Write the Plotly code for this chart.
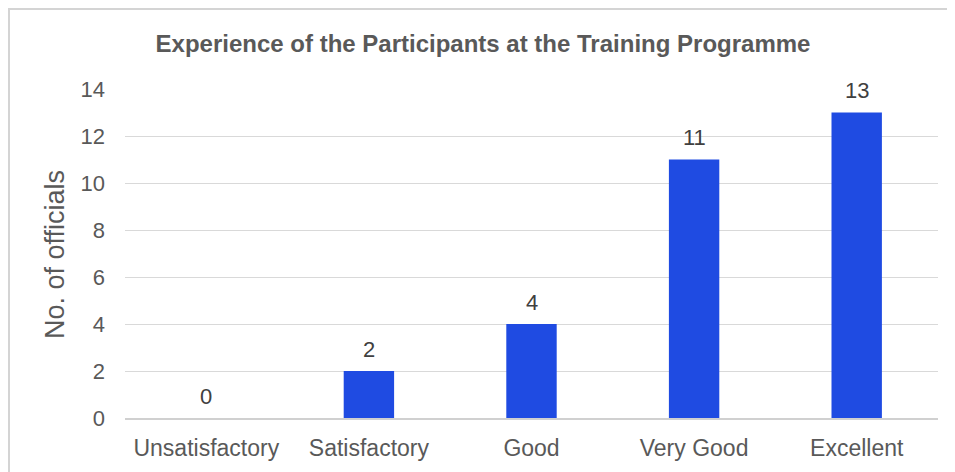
import plotly.graph_objects as go

categories = ["Unsatisfactory", "Satisfactory", "Good", "Very Good", "Excellent"]
officials = [0, 2, 4, 11, 13]
y_ticks = [0, 2, 4, 6, 8, 10, 12, 14]

OFF = 8  # default page margin of the browser
W, H = 955 - OFF, 472 - OFF
# plot area in reference-pixel coordinates
PL, PR, PT, PB = 125, 938, 89, 418
L, R, T, B = PL - OFF, 955 - PR, PT - OFF, 472 - PB
pw, ph = PR - PL, PB - PT

def px_x(p):
    return (p - PL) / pw

def px_y(p):
    return (PB - p) / ph

FONT = "Liberation Sans, Arial, sans-serif"
GRAY = "#595959"

fig = go.Figure()
fig.add_trace(go.Bar(
    x=categories, y=officials,
    marker=dict(color="#1F4BE2", line=dict(width=0)),
    width=0.31,
    hoverinfo="x+y",
))

for c, v in zip(categories, officials):
    fig.add_annotation(x=c, y=v, xref="x", yref="y", text=str(v),
                       showarrow=False, yshift=22, yanchor="middle",
                       font=dict(family=FONT, size=22, color="#404040"))

fig.add_annotation(x=px_x(55), y=px_y(255), xref="paper", yref="paper",
                   text="No. of officials", textangle=-90, showarrow=False,
                   xanchor="center", yanchor="middle",
                   font=dict(family=FONT, size=27, color=GRAY))

fig.add_shape(type="rect", xref="paper", yref="paper",
              x0=px_x(9), x1=px_x(1000), y0=px_y(520), y1=px_y(9),
              line=dict(color="#D4D4D4", width=2), fillcolor="rgba(0,0,0,0)",
              layer="below")

fig.update_layout(
    width=W, height=H,
    margin=dict(l=L, r=R, t=T, b=B, autoexpand=False),
    paper_bgcolor="white", plot_bgcolor="white",
    showlegend=False,
    title=dict(text="<b>Experience of the Participants at the Training Programme</b>",
               x=(483 - OFF) / W, xanchor="center", y=1 - (44 - OFF) / H, yanchor="middle",
               font=dict(family=FONT, size=24, color=GRAY)),
    xaxis=dict(showgrid=False, showline=True, linecolor="#D0D0D0", linewidth=2,
               tickfont=dict(family=FONT, size=23, color=GRAY),
               ticks="", ticklabelstandoff=8, range=[-0.5, 4.5]),
    yaxis=dict(range=[0, 14], tickvals=y_ticks, showgrid=True, gridcolor="#D9D9D9",
               gridwidth=1, zeroline=False, showline=False,
               tickfont=dict(family=FONT, size=22, color=GRAY),
               ticks="", ticklabelstandoff=19),
)

fig.write_html("out.html")
